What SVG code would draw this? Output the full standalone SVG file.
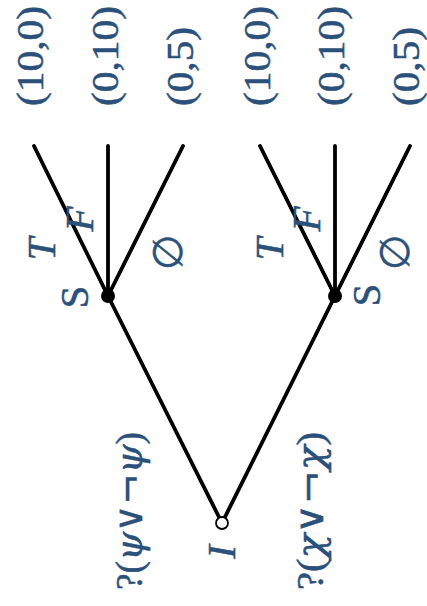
<svg xmlns="http://www.w3.org/2000/svg" width="427" height="606" viewBox="0 0 427 606">
<style>
.e{stroke:#000;stroke-width:3.8;fill:none;stroke-linecap:round}
.t{font-family:"Liberation Serif","DejaVu Serif",serif;fill:#2b5079;stroke:#2b5079;stroke-width:0.5;font-size:38px}
.l{font-size:41px}
.i{font-style:italic}
.m{text-anchor:middle}
.g{font-family:"DejaVu Serif",serif;font-style:italic}
.o{font-family:"DejaVu Serif",serif}
</style>
<rect width="427" height="606" fill="#fff"/>
<g id="connectors">
<line class="e" x1="222" y1="523" x2="108" y2="296"/>
<line class="e" x1="222" y1="523" x2="335" y2="296"/>
<line class="e" x1="108" y1="296" x2="34" y2="146"/>
<line class="e" x1="108" y1="296" x2="108" y2="146"/>
<line class="e" x1="108" y1="296" x2="183" y2="146"/>
<line class="e" x1="335" y1="296" x2="260" y2="146"/>
<line class="e" x1="335" y1="296" x2="335" y2="146"/>
<line class="e" x1="335" y1="296" x2="410" y2="146"/>
</g>
<g id="edge-labels">
<text class="t l i m" transform="translate(55,249) rotate(-90)">T</text>
<text class="t l i m" transform="translate(93,219) rotate(-90)">F</text>
<text class="t l m o" transform="translate(182,252) rotate(-90)">∅</text>
<text class="t l m" transform="translate(88,297) rotate(-90)">S</text>
<text class="t l i m" transform="translate(283,249) rotate(-90)">T</text>
<text class="t l i m" transform="translate(320,219) rotate(-90)">F</text>
<text class="t l m o" transform="translate(409,252) rotate(-90)">∅</text>
<text class="t l m" transform="translate(380,295) rotate(-90)">S</text>
</g>
<g id="root">
<circle cx="222" cy="523" r="6" fill="#fff" stroke="#000" stroke-width="1.8"/>
<text class="t l i m" transform="translate(235,552) rotate(-90)">I</text>
<text class="t" transform="translate(142,590) rotate(-90)" textLength="158" lengthAdjust="spacingAndGlyphs">?(<tspan class="g">ψ</tspan><tspan class="o">∨¬</tspan><tspan class="g">ψ</tspan>)</text>
<text class="t" transform="translate(323,590) rotate(-90)" textLength="158" lengthAdjust="spacingAndGlyphs">?(<tspan class="g">χ</tspan><tspan class="o">∨¬</tspan><tspan class="g">χ</tspan>)</text>
</g>
<g id="node-1"><circle cx="108" cy="296" r="7" fill="#000"/></g>
<g id="node-2"><circle cx="335" cy="296" r="7" fill="#000"/></g>
<g id="leaf-1"><text class="t" transform="translate(43,106) rotate(-90)" textLength="100" lengthAdjust="spacingAndGlyphs">(10,0)</text></g>
<g id="leaf-2"><text class="t" transform="translate(118,106) rotate(-90)" textLength="100" lengthAdjust="spacingAndGlyphs">(0,10)</text></g>
<g id="leaf-3"><text class="t" transform="translate(193,106) rotate(-90)" textLength="79" lengthAdjust="spacingAndGlyphs">(0,5)</text></g>
<g id="leaf-4"><text class="t" transform="translate(270,106) rotate(-90)" textLength="100" lengthAdjust="spacingAndGlyphs">(10,0)</text></g>
<g id="leaf-5"><text class="t" transform="translate(344,106) rotate(-90)" textLength="100" lengthAdjust="spacingAndGlyphs">(0,10)</text></g>
<g id="leaf-6"><text class="t" transform="translate(419,106) rotate(-90)" textLength="79" lengthAdjust="spacingAndGlyphs">(0,5)</text></g>
</svg>
